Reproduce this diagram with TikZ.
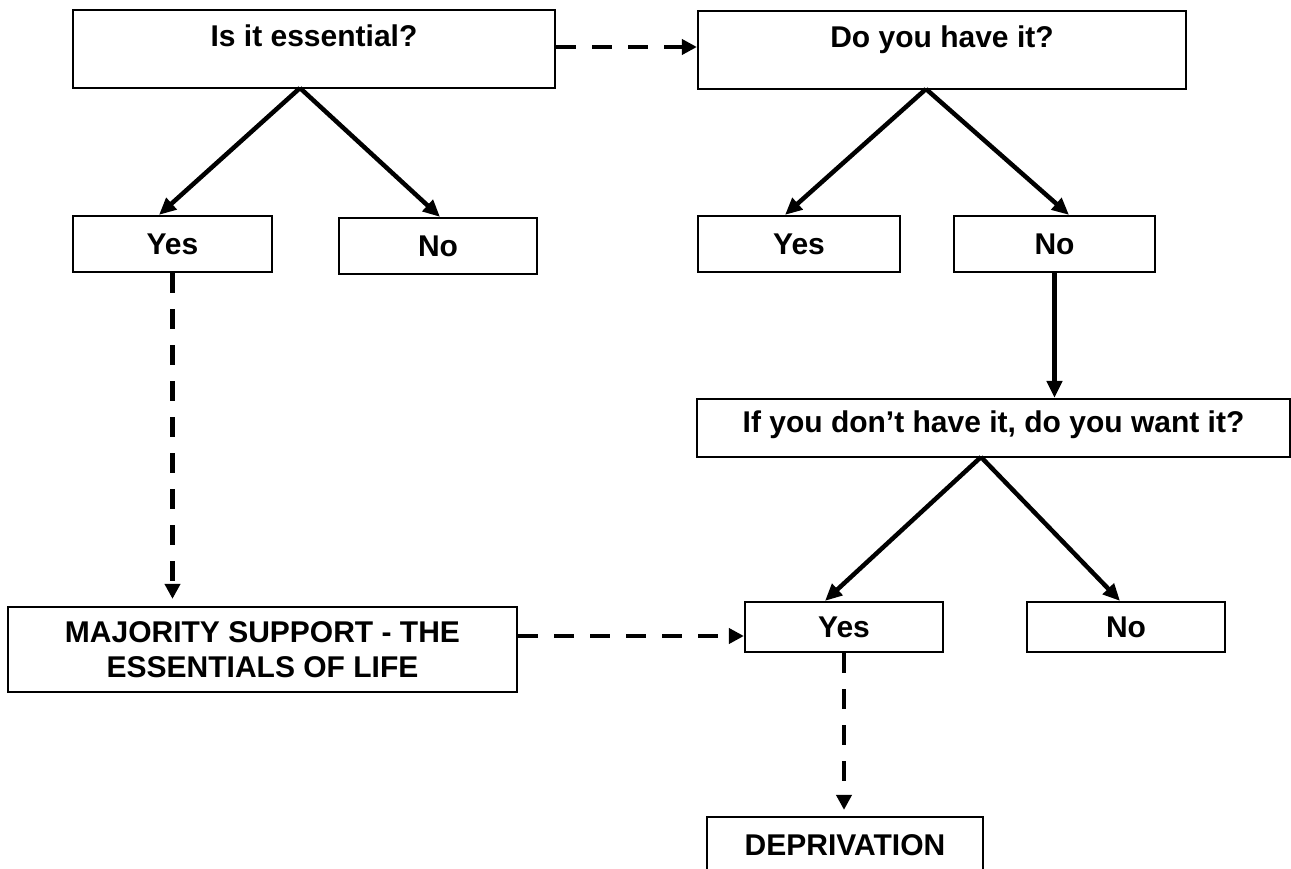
\documentclass[tikz,border=0pt]{standalone}
\usepackage{fontspec}
\setmainfont{Liberation Sans}
\usetikzlibrary{arrows.meta,calc}
\begin{document}
\begin{tikzpicture}[x=1pt,y=-1pt,
  box/.style={draw, line width=2.2pt, inner sep=0pt, font=\fontsize{30}{35}\selectfont\bfseries, text height=21.5pt, text depth=0pt},
  mbox/.style={draw, line width=2.2pt, inner sep=0pt, font=\fontsize{30}{35}\selectfont\bfseries, align=center},
  lbl/.style={inner sep=0pt, font=\fontsize{30}{35}\selectfont\bfseries, text height=21.5pt, text depth=0pt},
  solidarrow/.style={line width=4.5pt, -{Triangle[length=17pt,width=15pt]}},
  dasharrow/.style={line width=4.5pt, dash pattern=on 20pt off 16pt, -{Triangle[length=15pt,width=15pt]}}]
\useasboundingbox (0,0) rectangle (1291,869);
\clip (0,0) rectangle (1291,869);

% boxes
\node[box, minimum width=482pt, minimum height=78pt] (q1) at (314,49) {};
\node[lbl] (q1t) at (314,36) {Is it essential?};
\node[box, minimum width=488pt, minimum height=78pt] (q2) at (942,50) {};
\node[lbl] (q2t) at (942,37) {Do you have it?};

\node[box, minimum width=199pt, minimum height=56pt] (yes1) at (172.5,244) {Yes};
\node[box, minimum width=198pt, minimum height=56pt] (no1) at (438,246) {No};
\node[box, minimum width=202pt, minimum height=56pt] (yes2) at (799,244) {Yes};
\node[box, minimum width=201pt, minimum height=56pt] (no2) at (1054.5,244) {No};

\node[box, minimum width=593pt, minimum height=58pt] (q3) at (993.5,428) {};
\node[lbl] (q3t) at (993.5,422) {If you don’t have it, do you want it?};

\node[box, minimum width=198pt, minimum height=50pt] (yes3) at (844,627) {Yes};
\node[box, minimum width=198pt, minimum height=50pt] (no3) at (1126,627) {No};

\node[mbox, minimum width=509pt, minimum height=85pt] (maj) at (262.5,649.5) {MAJORITY SUPPORT - THE\\ESSENTIALS OF LIFE};

\node[box, minimum width=276pt, minimum height=55pt] (dep) at (845,844.5) {DEPRIVATION};

% apex coordinates
\coordinate (a1) at (300,88);
\coordinate (a2) at (926,89);
\coordinate (a3) at (981,457);
\coordinate (m1) at (0,47);
\coordinate (m2) at (0,636);

% solid arrows
\draw[solidarrow] (a1) -- ($(yes1.north)+(-13.5,0)$);
\draw[solidarrow] (a1) -- ($(no1.north)+(2,0)$);
\draw[solidarrow] (a2) -- ($(yes2.north)+(-14,0)$);
\draw[solidarrow] (a2) -- ($(no2.north)+(14.5,0)$);
\draw[solidarrow] (no2.south) -- (no2.south |- q3.north);
\draw[solidarrow] (a3) -- ($(yes3.north)+(-19,0)$);
\draw[solidarrow] (a3) -- ($(no3.north)+(-6,0)$);

% dashed arrows
\draw[dasharrow] (q1.east |- m1) -- (q2.west |- m1);
\draw[dasharrow, shorten >=7pt] (yes1.south) -- (maj.north -| yes1.south);
\draw[dasharrow] (maj.east |- m2) -- (yes3.west |- m2);
\draw[dasharrow, shorten >=6pt] (yes3.south) -- (dep.north -| yes3.south);
\end{tikzpicture}
\end{document}
